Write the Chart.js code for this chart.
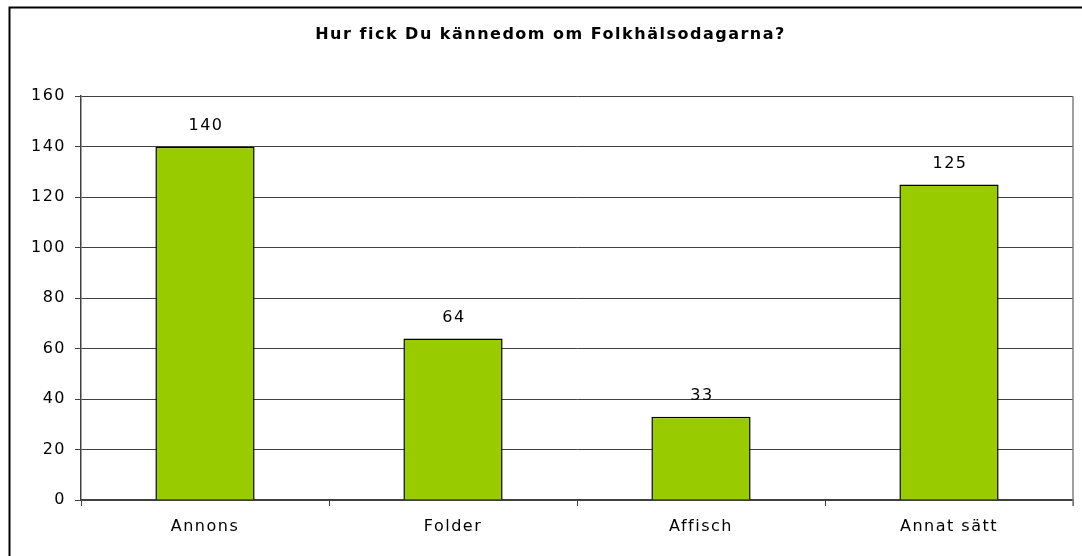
<!DOCTYPE html>
<html>
<head>
<meta charset="utf-8">
<script src="https://cdn.jsdelivr.net/npm/chart.js@4"></script>
<style>
  html, body { margin: 0; padding: 0; background: #fff; }
  #wrap { width: 1082px; height: 556px; position: relative; }
</style>
</head>
<body>
<div id="wrap"><canvas id="graf"></canvas></div>
<script>
const kategorier = ['Annons', 'Folder', 'Affisch', 'Annat sätt']
const antal = [140, 64, 33, 125]
const yTicks = [0, 20, 40, 60, 80, 100, 120, 140, 160]
const rubrik = 'Hur fick Du kännedom om Folkhälsodagarna?'

const typsnitt = '"DejaVu Sans", Verdana, sans-serif'
const spaering = '1.5px' // texten i originalet är utdragen på bredden

// sätter teckenavstånd innan layout och ritning
const avstand = {
    id: 'avstand',
    beforeLayout(chart) { chart.ctx.letterSpacing = spaering },
    beforeDraw(chart) { chart.ctx.letterSpacing = spaering }
}

// ram runt diagrammet + höger kant på ritytan
const ramar = {
    id: 'ramar',
    beforeDraw(chart) {
        const c = chart.ctx
        c.save()
        c.strokeStyle = '#000'
        c.lineWidth = 2
        c.strokeRect(9.5, 7.5, 1200, 700)
        c.restore()
    },
    afterDraw(chart) {
        const a = chart.chartArea
        const c = chart.ctx
        c.save()
        c.strokeStyle = '#808080'
        c.lineWidth = 1.5
        c.beginPath()
        c.moveTo(a.right, a.top)
        c.lineTo(a.right, a.bottom + 6)
        c.stroke()
        c.restore()
    }
}

// värden ovanför staplarna
const etiketter = {
    id: 'etiketter',
    afterDatasetsDraw(chart) {
        const c = chart.ctx
        const meta = chart.getDatasetMeta(0)
        c.save()
        c.font = '16px ' + typsnitt
        c.fillStyle = '#000'
        c.textAlign = 'center'
        c.textBaseline = 'middle'
        meta.data.forEach((bar, i) => {
            c.fillText(antal[i], bar.x + 1, bar.y - 21)
        })
        c.restore()
    }
}

const ctx = document.getElementById('graf')
new Chart(ctx, {
    type: 'bar',
    data: {
        labels: kategorier,
        datasets: [{
            data: antal,
            backgroundColor: '#99CC00',
            borderColor: '#000',
            borderWidth: 1.5,
            barPercentage: 0.4,
            categoryPercentage: 1
        }]
    },
    options: {
        responsive: true,
        maintainAspectRatio: false,
        animation: false,
        layout: { padding: { left: 28, right: 9, top: 0, bottom: 0 } },
        plugins: {
            legend: { display: false },
            tooltip: { enabled: false },
            title: {
                display: true,
                text: rubrik,
                color: '#000',
                font: { family: typsnitt, size: 16, weight: 'bold' },
                padding: { top: 25, bottom: 52 }
            }
        },
        scales: {
            x: {
                grid: {
                    drawOnChartArea: false,
                    drawTicks: true,
                    tickLength: 6,
                    color: '#404040'
                },
                border: { color: '#404040', width: 1.5 },
                ticks: {
                    color: '#000',
                    padding: 11,
                    font: { family: typsnitt, size: 16 }
                },
                afterFit(s) { s.height = 56 }
            },
            y: {
                min: 0,
                max: 160,
                afterBuildTicks(s) { s.ticks = yTicks.map(v => ({ value: v })) },
                grid: {
                    color: '#404040',
                    lineWidth: 1,
                    tickLength: 6
                },
                border: { color: '#404040', width: 1.5 },
                ticks: {
                    color: '#000',
                    padding: 9,
                    font: { family: typsnitt, size: 16 }
                },
                afterFit(s) { s.width = 53 }
            }
        }
    },
    plugins: [avstand, ramar, etiketter]
})
</script>
</body>
</html>
